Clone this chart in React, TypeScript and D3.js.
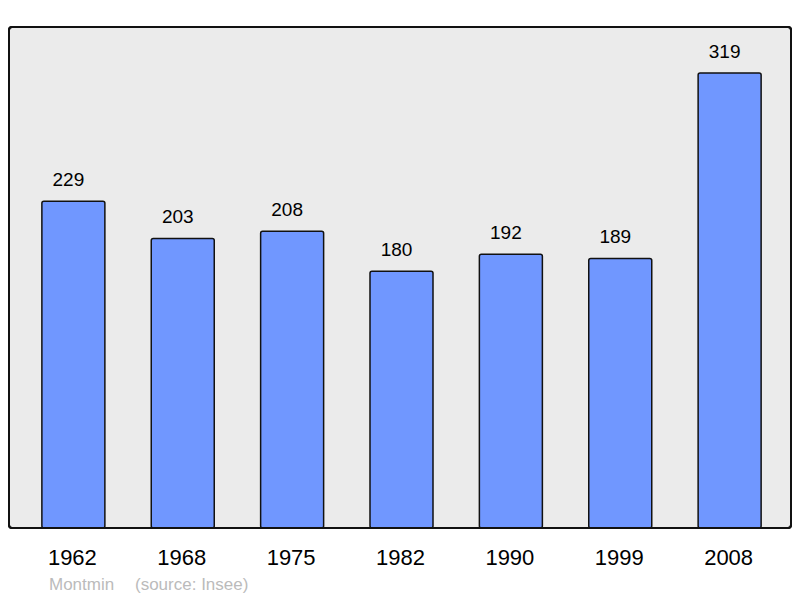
import React from "react";
import * as d3 from "d3";

const years = ["1962", "1968", "1975", "1982", "1990", "1999", "2008"];
const population = [229, 203, 208, 180, 192, 189, 319];
const townName = "Montmin";
const sourceText = "(source: Insee)";

export default function App() {
  const W = 800;
  const H = 598;
  const frame = { x: 9, y: 27, w: 782, h: 501 };
  const x = d3.scaleBand<string>().domain(years).range([20, 783]).paddingInner(0.424).paddingOuter(0.2);
  const y = d3.scaleLinear().domain([0, 319]).range([528, 73]);
  const font = "'Liberation Sans', Arial, sans-serif";
  return (
    <svg width={W} height={H} style={{ position: "absolute", left: 0, top: 0 }} fontFamily={font}>
      <rect x={frame.x} y={frame.y} width={frame.w} height={frame.h} rx={3} fill="#ebebeb" stroke="#111" strokeWidth={2} />
      {years.map((yr, i) => {
        const bx = x(yr)!;
        const bw = x.bandwidth();
        const top = y(population[i]);
        return (
          <g key={yr}>
            <rect x={bx} y={top} width={bw} height={y(0) - top} rx={2} fill="#7097ff" stroke="#111" strokeWidth={1.5} />
            <text x={bx + bw / 2 - 5} y={top - 15} textAnchor="middle" fontSize={19} fill="#000">{population[i]}</text>
            <text x={bx + bw / 2 - 1} y={565} textAnchor="middle" fontSize={22} fill="#000">{yr}</text>
          </g>
        );
      })}
      <rect x={frame.x} y={frame.y} width={frame.w} height={frame.h} rx={3} fill="none" stroke="#111" strokeWidth={2} />
      <text x={49} y={590} fontSize={17} fill="#bbbbbb">{townName}</text>
      <text x={135} y={590} fontSize={17} fill="#bbbbbb">{sourceText}</text>
    </svg>
  );
}
